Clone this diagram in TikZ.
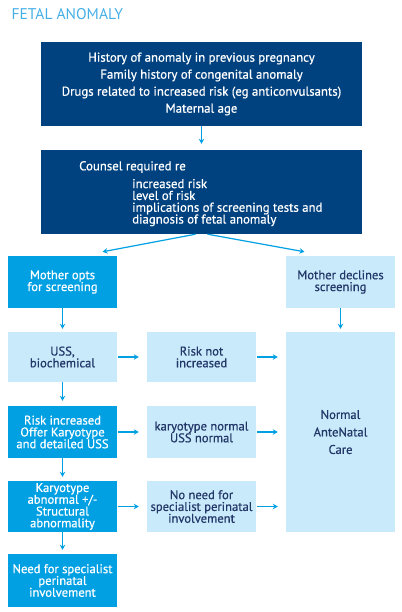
\documentclass[tikz,border=0pt]{standalone}
\usepackage{fontspec}
\setmainfont{PT Sans}
\newfontfamily\boxfont{PT Sans}[FakeBold=0.6]
\usetikzlibrary{arrows.meta}
\definecolor{navy}{RGB}{0,66,128}
\definecolor{brightblue}{RGB}{0,160,227}
\definecolor{paleblue}{RGB}{200,234,250}
\definecolor{inkblue}{RGB}{35,55,105}
\definecolor{titleblue}{RGB}{70,175,230}
\tikzset{
	darkbox/.style={fill=navy, text=white, inner sep=0pt},
	brightbox/.style={fill=brightblue, text=white, inner sep=0pt, minimum width=109pt, align=center, font=\boxfont\fontsize{12.6}{11.8}\selectfont},
	palebox/.style={fill=paleblue, text=inkblue, inner sep=0pt, minimum width=109pt, align=center, font=\boxfont\fontsize{12.6}{11.8}\selectfont},
	arr/.style={draw=brightblue, line width=1.2pt, -{Stealth[length=5pt,width=5.5pt]}}
}

\begin{document}
\begin{tikzpicture}[x=1pt, y=-1pt]
		%%%%% START %%%%%
		\useasboundingbox (0,0) rectangle (401,612);
		
		\node[anchor=base west, text=titleblue, font=\fontsize{15.5}{15.5}\selectfont] (title) at (8,19.5) {FETAL ANOMALY};
		
		\node[darkbox, minimum width=321pt, minimum height=84pt, align=center, font=\boxfont\fontsize{12.8}{17}\selectfont] (history) at (201.5,84) {History of anomaly in previous pregnancy\\Family history of congenital anomaly\\Drugs related to increased risk (eg anticonvulsants)\\Maternal age};
		
		\node[darkbox, minimum width=321pt, minimum height=84pt] (counsel) at (201.5,192) {};
		\node[anchor=north west, text=white, align=left, inner sep=0pt, font=\boxfont\fontsize{12.8}{11.8}\selectfont] (counseltxt) at (79,161) {Counsel required re\\[6pt]
			\hspace*{53pt}increased risk\\
			\hspace*{53pt}level of risk\\
			\hspace*{53pt}implications of screening tests and\\
			\hspace*{53pt}diagnosis of fetal anomaly};
		
		\node[brightbox, minimum height=52pt] (opts) at (62.5,282) {Mother opts\\for screening};
		\node[palebox, minimum height=52pt] (declines) at (340.5,282) {Mother declines\\screening};
		
		\node[palebox, minimum height=50pt] (uss) at (62.5,357) {USS,\\biochemical};
		\node[palebox, minimum height=50pt] (notinc) at (201.5,357) {Risk not\\increased};
		\node[palebox, minimum height=200pt, font=\boxfont\fontsize{12.6}{17.5}\selectfont] (normal) at (340.5,432) {Normal\\AnteNatal\\Care};
		
		\node[brightbox, minimum height=52pt] (riskinc) at (62.5,432) {Risk increased\\Offer Karyotype\\and detailed USS};
		\node[palebox, minimum height=52pt] (karnorm) at (201.5,432) {karyotype normal\\USS normal};
		
		\node[brightbox, minimum height=51pt] (karabn) at (62.5,506.5) {Karyotype\\abnormal +/-\\Structural\\abnormality};
		\node[palebox, minimum height=51pt] (noneed) at (201.5,506.5) {No need for\\specialist perinatal\\involvement};
		
		\node[brightbox, minimum height=53pt] (needspec) at (62.5,580.5) {Need for specialist\\perinatal\\involvement};
		
		% arrows
		\draw[arr, shorten >=6pt] (history) -- (counsel);
		\draw[arr] ([xshift=-6pt]counsel.south) -- ([xshift=40pt,yshift=4pt]opts.north);
		\draw[arr] ([xshift=6pt]counsel.south) -- ([xshift=-36pt,yshift=4pt]declines.north);
		\draw[arr, shorten >=3pt] (opts) -- (uss);
		\draw[arr, shorten >=3pt] (declines) -- (normal.north -| declines.south);
		\draw[arr, shorten <=1pt, shorten >=8pt] (uss) -- (notinc);
		\draw[arr, shorten <=1pt, shorten >=8pt] (notinc) -- (notinc -| normal.west);
		\draw[arr, shorten >=5pt] (uss) -- (riskinc);
		\draw[arr, shorten <=1pt, shorten >=8pt] (riskinc) -- (karnorm);
		\draw[arr, shorten <=1pt, shorten >=8pt] (karnorm) -- (karnorm -| normal.west);
		\draw[arr, shorten >=4pt] (riskinc) -- (karabn);
		\draw[arr, shorten <=1pt, shorten >=8pt] (karabn) -- (noneed);
		\draw[arr, shorten <=1pt, shorten >=8pt] (noneed) -- (noneed -| normal.west);
		\draw[arr, shorten >=4pt] (karabn) -- (needspec);
		%%%%% END %%%%%
\end{tikzpicture}
\end{document}
